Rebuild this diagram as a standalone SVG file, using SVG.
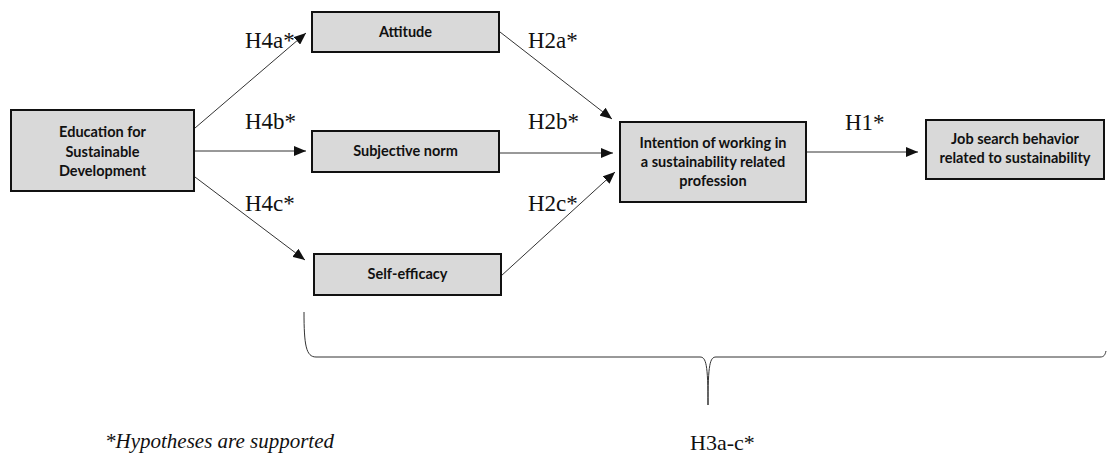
<svg xmlns="http://www.w3.org/2000/svg" width="1107" height="457" viewBox="0 0 1107 457">
<defs>
<style>
.box{fill:#d9d9d9;stroke:#111;stroke-width:2}
.bt{font-family:Lato,"Liberation Sans",Arial,sans-serif;font-weight:bold;font-size:14.5px;fill:#111;text-anchor:middle}
.lbl{font-family:"Liberation Serif","Times New Roman",serif;font-size:23px;fill:#111}
.con{stroke:#333;stroke-width:1;fill:none}
</style>
<marker id="ah" markerUnits="userSpaceOnUse" markerWidth="12" markerHeight="10" refX="12" refY="5" orient="auto">
<path d="M0,0 L12,5 L0,10 z" fill="#111"/>
</marker>
</defs>
<rect width="1107" height="457" fill="#fff"/>
<g id="connectors">
<line class="con" x1="195" y1="128" x2="306" y2="33" marker-end="url(#ah)"/>
<line class="con" x1="195" y1="151" x2="306" y2="151" marker-end="url(#ah)"/>
<line class="con" x1="195" y1="177" x2="305" y2="260" marker-end="url(#ah)"/>
<line class="con" x1="500" y1="32" x2="612" y2="119" marker-end="url(#ah)"/>
<line class="con" x1="500" y1="153" x2="613" y2="153" marker-end="url(#ah)"/>
<line class="con" x1="501" y1="276" x2="615" y2="172" marker-end="url(#ah)"/>
<line class="con" x1="806" y1="152" x2="918" y2="152" marker-end="url(#ah)"/>
<path class="con" stroke="#555" d="M304,312 C304,345 306,357 316,357 L700,357 C706,357 708,364 708,405 C708,364 710,357 716,357 L1100,357 C1104,357 1105,355 1106,351"/>
</g>
<g id="edu">
<rect class="box" x="11" y="110" width="183" height="81"/>
<text class="bt" x="102.5" y="137">Education for</text>
<text class="bt" x="102.5" y="156.5">Sustainable</text>
<text class="bt" x="102.5" y="176">Development</text>
</g>
<g id="attitude">
<rect class="box" x="312" y="12" width="187" height="40"/>
<text class="bt" x="405.5" y="37">Attitude</text>
</g>
<g id="subjective-norm">
<rect class="box" x="312" y="131" width="187" height="41"/>
<text class="bt" x="405.5" y="156">Subjective norm</text>
</g>
<g id="self-efficacy">
<rect class="box" x="314" y="254" width="187" height="41"/>
<text class="bt" x="407.5" y="279">Self-efficacy</text>
</g>
<g id="intention">
<rect class="box" x="620" y="122" width="186" height="80"/>
<text class="bt" x="713" y="148">Intention of working in</text>
<text class="bt" x="713" y="167">a sustainability related</text>
<text class="bt" x="713" y="186">profession</text>
</g>
<g id="job">
<rect class="box" x="926" y="120" width="178" height="59"/>
<text class="bt" x="1015" y="144">Job search behavior</text>
<text class="bt" x="1015" y="163">related to sustainability</text>
</g>
<g id="labels">
<text class="lbl" x="245" y="48">H4a*</text>
<text class="lbl" x="245" y="129">H4b*</text>
<text class="lbl" x="245" y="211">H4c*</text>
<text class="lbl" x="528" y="48">H2a*</text>
<text class="lbl" x="528" y="129">H2b*</text>
<text class="lbl" x="528" y="211">H2c*</text>
<text class="lbl" x="845" y="130">H1*</text>
<text class="lbl" x="690" y="450" style="font-size:22px">H3a-c*</text>
<text class="lbl" x="105" y="448" style="font-size:21px;font-style:italic">*Hypotheses are supported</text>
</g>
</svg>
